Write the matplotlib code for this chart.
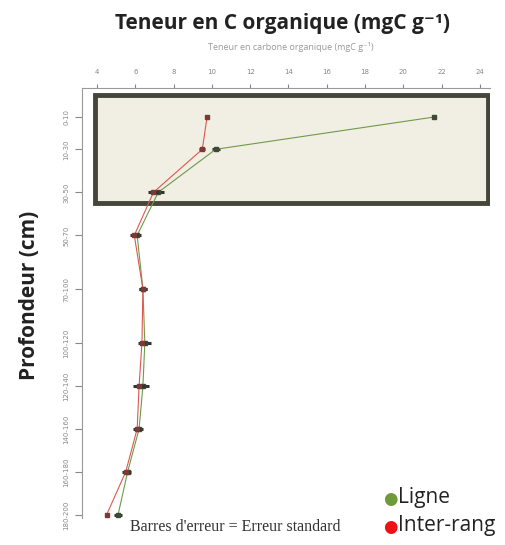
import matplotlib.pyplot as plt
from matplotlib.patches import Rectangle

# profondeurs (milieu de chaque horizon, cm) et etiquettes
depths = [5, 20, 40, 60, 85, 110, 130, 150, 170, 190]
depth_labels = ['0-10', '10-30', '30-50', '50-70', '70-100', '100-120',
                '120-140', '140-160', '160-180', '180-200']

# teneur en C organique (mgC g-1)
ligne = [21.6, 10.2, 7.2, 6.1, 6.4, 6.5, 6.4, 6.2, 5.6, 5.1]
ligne_se = [0.1, 0.2, 0.3, 0.2, 0.2, 0.3, 0.3, 0.2, 0.2, 0.2]
inter = [9.75, 9.5, 6.95, 5.95, 6.4, 6.35, 6.2, 6.1, 5.5, 4.5]
inter_se = [0.1, 0.15, 0.3, 0.2, 0.2, 0.2, 0.3, 0.2, 0.2, 0.1]

xticks = [4, 6, 8, 10, 12, 14, 16, 18, 20, 22, 24]

# zone mise en evidence (surface)
box_x = (3.9, 24.42)
box_depth = (-5.2, 45)

fig = plt.figure(figsize=(5.06, 5.45), dpi=100)
ax = fig.add_axes([82 / 506, 1 - 518 / 545, 408 / 506, 430 / 545])

ax.add_patch(Rectangle((box_x[0], box_depth[0]), box_x[1] - box_x[0],
                       box_depth[1] - box_depth[0], facecolor='#f1eee4',
                       edgecolor='#45463a', lw=3.5, zorder=1))

ax.errorbar(ligne, depths, xerr=ligne_se, color='#6f9a4a', lw=0.8,
            marker='s', ms=2.5, mfc='#3d4a35', mec='#3d4a35',
            ecolor='#333333', elinewidth=2.2, capsize=0, zorder=3)
ax.errorbar(inter, depths, xerr=inter_se, color='#e0574f', lw=0.8,
            marker='s', ms=2.5, mfc='#7a3a35', mec='#7a3a35',
            ecolor='#333333', elinewidth=2.2, capsize=0, zorder=4)

ax.set_xlim(3.22, 24.52)
ax.set_ylim(191.4, -8.5)
ax.xaxis.tick_top()
ax.set_xticks(xticks)
ax.set_yticks(depths)
ax.set_yticklabels(depth_labels, rotation=90, va='center')
ax.tick_params(axis='x', labelsize=5, colors='#888888', length=3, pad=6)
ax.tick_params(axis='y', labelsize=5, colors='#888888', length=5, pad=4)
for s in ['right', 'bottom']:
    ax.spines[s].set_visible(False)
for s in ['top', 'left']:
    ax.spines[s].set_color('#999999')
    ax.spines[s].set_linewidth(0.8)

sans = ['Open Sans', 'DejaVu Sans']
fig.text(283 / 506, 1 - 23 / 545, 'Teneur en C organique (mgC g\u207b\u00b9)',
         ha='center', va='center', fontsize=15, fontweight='bold',
         color='#222222', family=sans)
fig.text(291 / 506, 1 - 47 / 545, 'Teneur en carbone organique (mgC g\u207b\u00b9)',
         ha='center', va='center', fontsize=6.5, color='#999999', family=sans)
fig.text(30 / 506, 1 - 295 / 545, 'Profondeur (cm)', rotation=90,
         ha='center', va='center', fontsize=15, fontweight='bold',
         color='#222222', family=sans)
fig.text(130 / 506, 1 - 527 / 545, "Barres d'erreur = Erreur standard",
         ha='left', va='center', fontsize=11.5, color='#333333',
         family='Liberation Serif')

# legende
fig.text(383 / 506, 1 - 499 / 545, '\u25cf', color='#6f9a3a', fontsize=12,
         ha='left', va='center')
fig.text(398 / 506, 1 - 498 / 545, 'Ligne', color='#222222', fontsize=15,
         ha='left', va='center', family=sans)
fig.text(383 / 506, 1 - 527 / 545, '\u25cf', color='#ee1111', fontsize=12,
         ha='left', va='center')
fig.text(398 / 506, 1 - 526 / 545, 'Inter-rang', color='#222222', fontsize=15,
         ha='left', va='center', family=sans)

plt.savefig('out.png', dpi=100)
